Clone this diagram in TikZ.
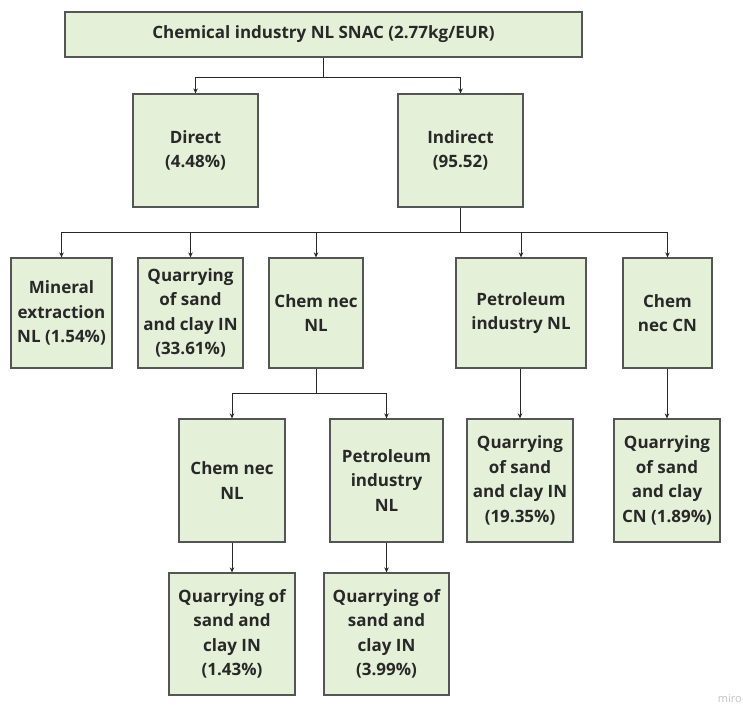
\documentclass[tikz,border=0pt]{standalone}
\usepackage{fontspec}
\setmainfont{Open Sans}
\usetikzlibrary{arrows.meta}
\definecolor{boxfill}{RGB}{229,240,216}
\definecolor{boxline}{RGB}{85,85,85}
\definecolor{txt}{RGB}{40,40,40}
\definecolor{conn}{RGB}{40,40,40}
\definecolor{wm}{RGB}{195,195,195}
\tikzset{
  box/.style={draw=boxline, fill=boxfill, line width=1.2pt, inner sep=0pt,
    align=center, text=txt, font=\fontsize{17}{24.5}\selectfont\bfseries},
  link/.style={draw=conn, line width=1pt},
  arr/.style={link, -{Stealth[length=5pt,width=4.5pt]}},
}
\begin{document}
\begin{tikzpicture}[x=1pt,y=-1pt]
\useasboundingbox[fill=white] (0,0) rectangle (743,706);
% top
\node[box, minimum width=517pt, minimum height=45pt] (top) at (323.5,34.5) {Chemical industry NL SNAC (2.77kg/EUR)};
% level 1
\node[box, minimum width=125pt, minimum height=113pt] (direct) at (195.5,150.5) {Direct\\(4.48\%)};
\node[box, minimum width=125pt, minimum height=113pt] (indirect) at (460.5,150.5) {Indirect\\(95.52)};
% level 2
\node[box, minimum width=101pt, minimum height=110pt] (mineral) at (61.5,313) {Mineral\\extraction\\NL (1.54\%)};
\node[box, minimum width=105pt, minimum height=110pt] (quarryA) at (190.5,313) {Quarrying\\of sand\\and clay IN\\(33.61\%)};
\node[box, minimum width=94pt, minimum height=110pt] (chemA) at (316,313) {Chem nec\\NL};
\node[box, minimum width=130pt, minimum height=110pt] (petroA) at (521,313) {Petroleum\\industry NL};
\node[box, minimum width=89pt, minimum height=110pt] (chemCN) at (667.5,313) {Chem\\nec CN};
% level 3
\node[box, minimum width=106pt, minimum height=123pt] (chemB) at (232,480.5) {Chem nec\\NL};
\node[box, minimum width=113pt, minimum height=123pt] (petroB) at (386.5,480.5) {Petroleum\\industry\\NL};
\node[box, minimum width=106pt, minimum height=123pt] (quarryB) at (520,480.5) {Quarrying\\of sand\\and clay IN\\(19.35\%)};
\node[box, minimum width=106pt, minimum height=123pt] (quarryCN) at (667,480.5) {Quarrying\\of sand\\and clay\\CN (1.89\%)};
% level 4
\node[box, minimum width=126pt, minimum height=122pt] (quarryC) at (232,634) {Quarrying of\\sand and\\clay IN\\(1.43\%)};
\node[box, minimum width=125pt, minimum height=122pt] (quarryD) at (386.5,634) {Quarrying of\\sand and\\clay IN\\(3.99\%)};
% connectors
\coordinate (s1) at (323.5,78);
\coordinate (s2) at (460.5,232);
\coordinate (s3) at (316,393);
\draw[link] (top.south) -- (s1);
\draw[arr] (s1) -| (direct.north);
\draw[arr] (s1) -| (indirect.north);
\draw[link] (indirect.south) -- (s2);
\draw[arr] (s2) -| (mineral.north);
\draw[arr] (s2) -| (quarryA.north);
\draw[arr] (s2) -| (chemA.north);
\draw[arr] (s2) -| (petroA.north);
\draw[arr] (s2) -| (chemCN.north);
\draw[link] (chemA.south) -- (s3);
\draw[arr] (s3) -| (chemB.north);
\draw[arr] (s3) -| (petroB.north);
\draw[arr] (petroA.south -| quarryB.north) -- (quarryB.north);
\draw[arr] (chemCN.south -| quarryCN.north) -- (quarryCN.north);
\draw[arr] (chemB.south) -- (quarryC.north);
\draw[arr] (petroB.south) -- (quarryD.north);
% watermark
\node[anchor=east, text=wm, font=\fontsize{11}{12}\selectfont, inner sep=0pt] (miro) at (742,699) {miro};
\end{tikzpicture}
\end{document}
